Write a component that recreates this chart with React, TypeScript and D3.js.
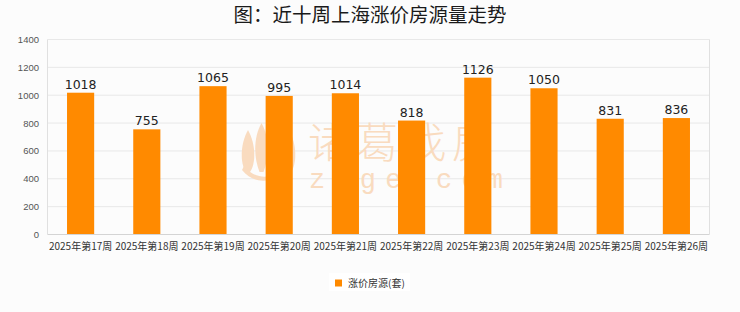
import React from "react";
import * as d3 from "d3";

const categories = [
  "2025年第17周", "2025年第18周", "2025年第19周", "2025年第20周", "2025年第21周",
  "2025年第22周", "2025年第23周", "2025年第24周", "2025年第25周", "2025年第26周",
];
const values = [1018, 755, 1065, 995, 1014, 818, 1126, 1050, 831, 836];
const yTicks = [0, 200, 400, 600, 800, 1000, 1200, 1400];
const title = "图：近十周上海涨价房源量走势";
const seriesName = "涨价房源(套)";
const wmTitle = "诸葛找房";
const wmSite = "zuge.com";

const W = 740, H = 312;
const M = { left: 47.5, right: 709.5, top: 39.5, bottom: 234.5 };
const BAR = "#ff8a00";
const CJK = "'Noto Sans CJK SC', 'Noto Sans', sans-serif";

export default function App() {
  const x = d3.scaleBand<string>().domain(categories).range([M.left, M.right]).paddingInner(0.59).paddingOuter(0.295);
  const y = d3.scaleLinear().domain([0, 1400]).range([M.bottom, M.top]);
  const wm = "#f9dbbf";
  const lobes = [248, 261.5, 275, 289];
  return (
    <svg width={W} height={H} style={{ position: "absolute", left: 0, top: 0, background: "#fcfcfc" }}>
      <rect x={0} y={0} width={W} height={H} fill="#fcfcfc" />
      <text x={370} y={22} textAnchor="middle" fontSize={19.5} fontFamily={CJK} fill="#1a1a1a" fontWeight={400}>{title}</text>
      {yTicks.map((t) => (
        <g key={t}>
          <line x1={M.left} x2={M.right} y1={y(t)} y2={y(t)} stroke={t === 0 ? "#d4d4d4" : "#e8e8e8"} strokeWidth={1} />
          <text x={39} y={y(t) + 3.5} textAnchor="end" fontSize={9.5} fontFamily="'Liberation Sans', Arial, sans-serif" fill="#555">{t}</text>
        </g>
      ))}
      <line x1={M.left} x2={M.left} y1={M.top} y2={M.bottom} stroke="#e0e0e0" />
      <line x1={M.right} x2={M.right} y1={M.top} y2={M.bottom} stroke="#e0e0e0" />
      {/* watermark */}
      <g fill={wm} stroke="none">
        {lobes.map((cx, i) => {
          const top = i === 0 || i === 3 ? 130 : 123;
          return (
            <path key={i} d={`M${cx},${top} C${cx + 8},${top + 14} ${cx + 8},${top + 34} ${cx + 2},172 L${cx - 2},172 C${cx - 8},${top + 34} ${cx - 8},${top + 14} ${cx},${top} Z`} />
          );
        })}
        <path d="M244,166 C252,176 262,178 270,176 L270,180 C260,182 250,180 242,170 Z" />
        <text x={308} y={158} fontSize={42} fontFamily={CJK} fontWeight={300} letterSpacing={6}>{wmTitle}</text>
        <text x={309} y={188} fontSize={27} fontFamily="'Liberation Mono', monospace" letterSpacing={9.2}>{wmSite}</text>
      </g>
      {categories.map((c, i) => (
        <g key={c}>
          <rect x={x(c)} y={y(values[i])} width={x.bandwidth()} height={M.bottom - y(values[i]) - 0.5} fill={BAR} />
          <text x={(x(c) as number) + x.bandwidth() / 2} y={y(values[i]) - 4} textAnchor="middle" fontSize={12.5} fontFamily="'DejaVu Sans', sans-serif" fill="#222">{values[i]}</text>
          <text x={(x(c) as number) + x.bandwidth() / 2} y={250} textAnchor="middle" fontSize={10} fontFamily={CJK} fill="#333">{c}</text>
        </g>
      ))}
      <rect x={329} y={273} width={81} height={18} fill="#ffffff" />
      <rect x={335} y={279.5} width={7} height={7} fill={BAR} />
      <text x={348} y={286.5} fontSize={10} fontFamily={CJK} fill="#333">{seriesName}</text>
    </svg>
  );
}
